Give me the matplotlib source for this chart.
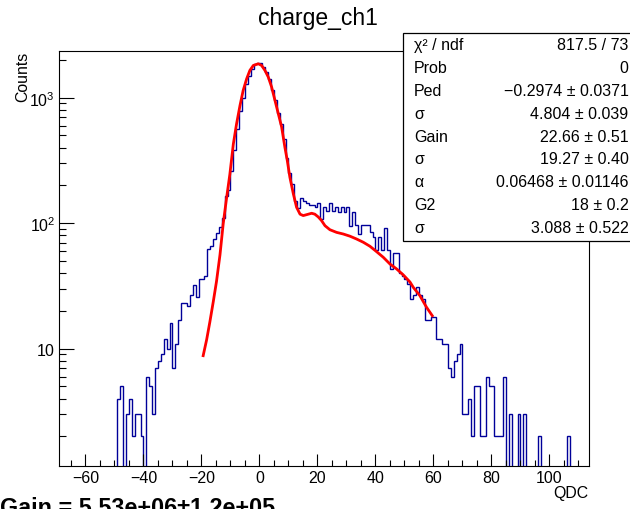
import numpy as np
import matplotlib
matplotlib.use("Agg")
import matplotlib.pyplot as plt
from matplotlib.patches import Rectangle
from matplotlib.ticker import MultipleLocator, FixedLocator, NullFormatter

plt.rcParams['font.family'] = ['Liberation Sans', 'DejaVu Sans']
plt.rcParams['mathtext.fontset'] = 'custom'
plt.rcParams['mathtext.rm'] = 'Liberation Sans'
plt.rcParams['mathtext.it'] = 'Liberation Sans:italic'

# QDC histogram, 1 count wide bins, first bin starts at -49
first_bin = -49
counts = [
    4, 5, 0, 3, 4, 2, 3, 3, 2, 0,            # -49 .. -40
    6, 5, 3, 7, 8, 9, 12, 10, 16, 7,         # -39 .. -30
    11, 17, 23, 23, 22, 27, 32, 26, 36, 36,  # -29 .. -20
    38, 62, 66, 75, 84, 94, 111, 166, 185, 260,   # -19 .. -10
    380, 560, 790, 1000, 1280, 1500, 1700, 1860, 1890,  # -9 .. -1
    1880, 1760, 1600, 1400, 1150, 960, 760, 620, 470, 330,  # 0 .. 9
    250, 205, 150, 133, 160, 149, 144, 139, 139, 134,  # 10 .. 19
    146, 108, 134, 126, 146, 126, 134, 122, 134, 122,  # 20 .. 29
    135, 95, 122, 97, 82, 97, 97, 97, 85, 77,          # 30 .. 39
    61, 77, 61, 91, 61, 43, 58, 58, 40, 38,            # 40 .. 49
    36, 33, 25, 27, 31, 27, 25, 17, 17, 18,            # 50 .. 59
    18, 12, 12, 11, 11, 7, 6, 8, 9, 11,                # 60 .. 69
    3, 3, 4, 2, 5, 5, 2, 2, 6, 5,                      # 70 .. 79
    5, 2, 2, 2, 6, 0, 3, 0, 0, 3,                      # 80 .. 89
    0, 3, 0, 0, 0, 0, 2, 0, 0, 0,                      # 90 .. 99
    0, 0, 0, 0, 0, 0, 2, 0,                            # 100 .. 107
]

# fitted response function
fit_x = [-19.4, -18.2, -17.1, -15.9, -14.8, -13.6, -12.5, -11.3, -10.2, -9.0,
         -7.9, -6.7, -5.6, -4.4, -3.3, -2.1, -0.4, 0.75, 1.9, 3.05,
         4.2, 5.34, 6.49, 7.64, 8.79, 9.6, 10.5, 11.7, 12.8, 14.0,
         15.1, 16.3, 18.0, 19.1, 20.3, 21.4, 22.6, 24.3, 26.6, 28.9,
         31.2, 33.5, 35.8, 38.1, 40.4, 42.7, 45.0, 47.3, 49.6, 51.9,
         53.05, 55.3, 57.6, 59.6]
fit_y = [8.8, 11.8, 16.3, 23.8, 34.4, 56, 98.6, 160.5, 245, 427,
         616, 867, 1144, 1415, 1649, 1807, 1863, 1807, 1649, 1460,
         1216, 955, 748, 586, 401, 316, 232, 171, 134, 118,
         115, 117, 120, 118, 112, 105, 95.5, 88.7, 84.5, 82,
         78.8, 74.8, 70.5, 65.5, 59.3, 53.5, 47.3, 43.2, 38.7, 34,
         30.8, 26.5, 21.4, 18.3]

stat_names = ['χ² / ndf', 'Prob', 'Ped', 'σ', 'Gain', 'σ', 'α', 'G2', 'σ']
stat_values = ['817.5 / 73', '0', '−0.2974 ± 0.0371', '4.804 ± 0.039',
               '22.66 ± 0.51', '19.27 ± 0.40', '0.06468 ± 0.01146',
               '18 ± 0.2', '3.088 ± 0.522']

W, H = 630, 510
fig = plt.figure(figsize=(W / 100, H / 100), dpi=100)

def fx(px):
    return px / W

def fy(py):
    return 1 - py / H

ax = fig.add_axes([fx(59.3), fy(466.7), fx(588.5) - fx(59.3), fy(51.7) - fy(466.7)])

edges = np.arange(first_bin, first_bin + len(counts) + 1)
# baseline far below the axis so the outer edges drop to the frame
ax.stairs(counts, edges, baseline=1e-3, color='#000099', lw=1.0)
ax.plot(fit_x, fit_y, color='red', lw=2.0)

ax.set_yscale('log', nonpositive='clip')
ax.set_xlim(-69.0, 113.45)
ax.set_ylim(1.169, 2368)

ax.xaxis.set_minor_locator(MultipleLocator(5))
ax.set_xticks(np.arange(-60, 101, 20))
ax.set_xticklabels(['−60', '−40', '−20', '0', '20', '40', '60', '80', '100'])
ax.yaxis.set_major_locator(FixedLocator([10, 100, 1000]))
ax.set_yticklabels([r'$\mathregular{10}$', r'$\mathregular{10^{2}}$', r'$\mathregular{10^{3}}$'])
minors = [m * 10 ** d for d in range(0, 4) for m in range(2, 10)]
ax.yaxis.set_minor_locator(FixedLocator(minors))
ax.yaxis.set_minor_formatter(NullFormatter())

ax.tick_params(axis='x', which='major', direction='in', length=8.6, width=0.8,
               labelsize=11.5, pad=3, top=False)
ax.tick_params(axis='x', which='minor', direction='in', length=4.3, width=0.8, top=False)
ax.tick_params(axis='y', which='major', direction='in', length=10.8, width=0.8,
               labelsize=11.5, pad=3, right=False)
ax.tick_params(axis='y', which='minor', direction='in', length=5.0, width=0.8, right=False)
for s in ax.spines.values():
    s.set_linewidth(0.8)

fig.text(fx(318), fy(18), 'charge_ch1', ha='center', va='center', fontsize=16.5)
fig.text(fx(23), fy(51.7), 'Counts', rotation=90, ha='center', va='top', fontsize=11.4)
fig.text(fx(588.5), fy(494), 'QDC', ha='right', va='center', fontsize=11.4)
# gain line runs off the bottom edge, as in the original canvas
fig.text(fx(0), fy(515), 'Gain = 5.53e+06±1.2e+05', ha='left', va='baseline',
         fontsize=16.8, fontweight='bold')

# stats box
box = Rectangle((fx(403.5), fy(242)), fx(640) - fx(403.5), fy(34) - fy(242),
                transform=fig.transFigure, facecolor='white', edgecolor='black',
                lw=0.9, zorder=5)
fig.add_artist(box)
for i, (name, val) in enumerate(zip(stat_names, stat_values)):
    yy = fy(45.5 + 22.9 * i)
    fig.text(fx(414), yy, name, ha='left', va='center', fontsize=11.5, zorder=6)
    fig.text(fx(628.5), yy, val, ha='right', va='center', fontsize=11.5, zorder=6)

fig.savefig('out.png', dpi=100)
